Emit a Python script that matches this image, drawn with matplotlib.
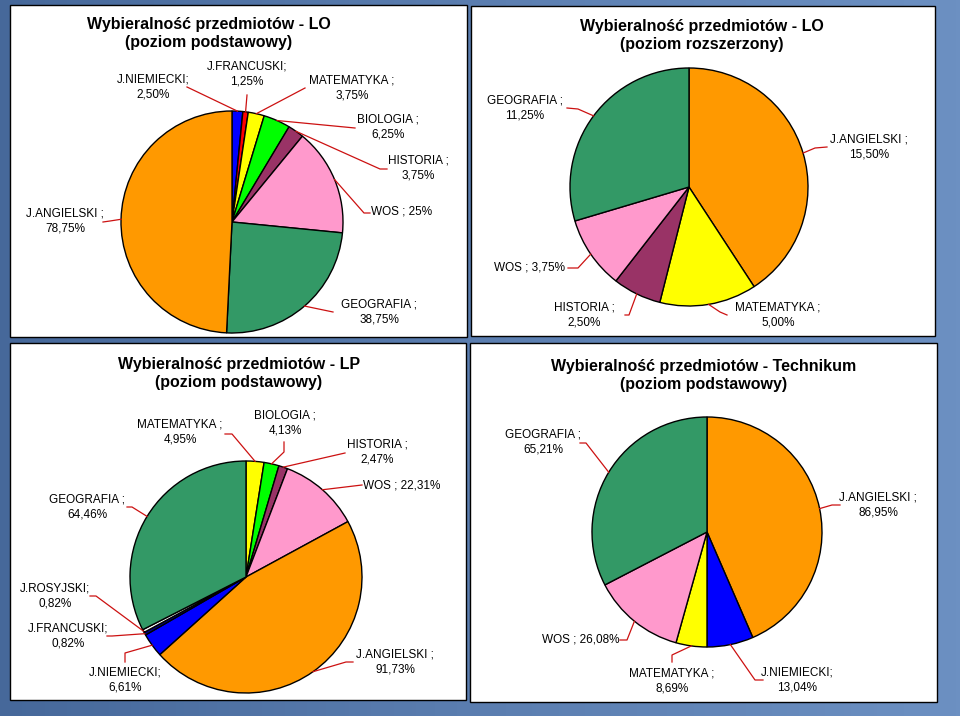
""" Wybieralność przedmiotów - cztery wykresy kołowe na jednym slajdzie """

import numpy as np
import matplotlib.pyplot as plt
from matplotlib.patches import Rectangle
from matplotlib.colors import LinearSegmentedColormap

W, H = 960, 716
CZCIONKA = "Liberation Sans"
KOLOR_LINII = "#cc1111"

# --- dane ---
lo_pp_przedmioty = ["J.NIEMIECKI", "J.FRANCUSKI", "MATEMATYKA", "BIOLOGIA",
                    "HISTORIA", "WOS", "GEOGRAFIA", "J.ANGIELSKI"]
lo_pp_wartosci = [2.50, 1.25, 3.75, 6.25, 3.75, 25.0, 38.75, 78.75]
lo_pp_etykiety = ["J.NIEMIECKI;\n2,50%", "J.FRANCUSKI;\n1,25%", "MATEMATYKA ;\n3,75%",
                  "BIOLOGIA ;\n6,25%", "HISTORIA ;\n3,75%", "WOS ; 25%",
                  "GEOGRAFIA ;\n38,75%", "J.ANGIELSKI ;\n78,75%"]
lo_pp_kolory = ["#0000ff", "#ff0000", "#ffff00", "#00ff00", "#993366", "#ff99cc",
                "#339966", "#ff9900"]

lo_pr_przedmioty = ["J.ANGIELSKI", "MATEMATYKA", "HISTORIA", "WOS", "GEOGRAFIA"]
lo_pr_wartosci = [15.50, 5.00, 2.50, 3.75, 11.25]
lo_pr_etykiety = ["J.ANGIELSKI ;\n15,50%", "MATEMATYKA ;\n5,00%", "HISTORIA ;\n2,50%",
                  "WOS ; 3,75%", "GEOGRAFIA ;\n11,25%"]
lo_pr_kolory = ["#ff9900", "#ffff00", "#993366", "#ff99cc", "#339966"]

lp_przedmioty = ["MATEMATYKA", "BIOLOGIA", "HISTORIA", "WOS", "J.ANGIELSKI",
                 "J.NIEMIECKI", "J.FRANCUSKI", "J.ROSYJSKI", "GEOGRAFIA"]
lp_wartosci = [4.95, 4.13, 2.47, 22.31, 91.73, 6.61, 0.82, 0.82, 64.46]
lp_etykiety = ["MATEMATYKA ;\n4,95%", "BIOLOGIA ;\n4,13%", "HISTORIA ;\n2,47%",
               "WOS ; 22,31%", "J.ANGIELSKI ;\n91,73%", "J.NIEMIECKI;\n6,61%",
               "J.FRANCUSKI;\n0,82%", "J.ROSYJSKI;\n0,82%", "GEOGRAFIA ;\n64,46%"]
lp_kolory = ["#ffff00", "#00ff00", "#993366", "#ff99cc", "#ff9900", "#0000ff",
             "#000080", "#ffffff", "#339966"]

tech_przedmioty = ["J.ANGIELSKI", "J.NIEMIECKI", "MATEMATYKA", "WOS", "GEOGRAFIA"]
tech_wartosci = [86.95, 13.04, 8.69, 26.08, 65.21]
tech_etykiety = ["J.ANGIELSKI ;\n86,95%", "J.NIEMIECKI;\n13,04%", "MATEMATYKA ;\n8,69%",
                 "WOS ; 26,08%", "GEOGRAFIA ;\n65,21%"]
tech_kolory = ["#ff9900", "#0000ff", "#ffff00", "#ff99cc", "#339966"]

tytuly = ["Wybieralność przedmiotów - LO\n(poziom podstawowy)",
          "Wybieralność przedmiotów - LO\n(poziom rozszerzony)",
          "Wybieralność przedmiotów - LP\n(poziom podstawowy)",
          "Wybieralność przedmiotów - Technikum\n(poziom podstawowy)"]

# --- układ (piksele obrazu, y w dół) ---
panele = [
    dict(ramka=(10, 5, 467, 337), tytul=(209, 33), srodek=(232, 222), r=111,
         teksty=[(153, 87), (247, 74), (352, 88), (388, 127), (418, 168),
                 (402, 212), (379, 312), (65, 221)],
         linie=[[(187, 87)], [(247, 95)], [(305, 88)], [(355, 128)],
                [(387, 169), (380, 169)], [(370, 213), (364, 213)],
                [(333, 312)], [(103, 222), (110, 221)]]),
    dict(ramka=(471, 6, 935, 336), tytul=(702, 36), srodek=(689, 187), r=119,
         teksty=[(869, 147), (778, 315), (584, 315), (529, 267), (525, 108)],
         linie=[[(827, 147), (815, 148)], [(727, 315), (720, 312)],
                [(625, 315), (629, 315)], [(568, 268), (578, 268)],
                [(567, 108), (578, 109)]]),
    dict(ramka=(10, 343, 466, 700), tytul=(239, 374), srodek=(246, 577), r=116,
         teksty=[(180, 432), (285, 423), (377, 452), (402, 485), (395, 662),
                 (125, 680), (68, 636), (55, 596), (87, 507)],
         linie=[[(225, 434), (232, 434)], [(284, 442), (284, 452)], [(345, 453)],
                [(362, 485)], [(353, 662), (346, 662)], [(125, 662), (125, 653)],
                [(107, 636), (112, 636)], [(90, 596), (96, 596)],
                [(127, 507), (132, 507)]]),
    dict(ramka=(470, 343, 937, 702), tytul=(704, 375), srodek=(707, 532), r=115,
         teksty=[(878, 505), (797, 680), (672, 681), (581, 639), (543, 442)],
         linie=[[(840, 505), (832, 505)], [(763, 680), (755, 680)],
                [(672, 662), (672, 655)], [(620, 640), (627, 640)],
                [(580, 443), (586, 443)]]),
]

dane = [(lo_pp_wartosci, lo_pp_etykiety, lo_pp_kolory),
        (lo_pr_wartosci, lo_pr_etykiety, lo_pr_kolory),
        (lp_wartosci, lp_etykiety, lp_kolory),
        (tech_wartosci, tech_etykiety, tech_kolory)]


def Y(y):
    """ zamiana y obrazu (w dół) na y osi (w górę) """
    return H - y


fig = plt.figure(figsize=(W / 100, H / 100), dpi=100)
ax = fig.add_axes([0, 0, 1, 1])

# tło slajdu
tlo = LinearSegmentedColormap.from_list("tlo", ["#46689a", "#5b7eb0", "#6c90c2"])
gradient = np.linspace(0, 1, 256).reshape(1, -1)
ax.imshow(gradient, extent=[0, W, 0, H], cmap=tlo, aspect="auto", zorder=0)

for panel, (wartosci, etykiety, kolory), tytul in zip(panele, dane, tytuly):
    x0, y0, x1, y1 = panel["ramka"]
    ax.add_patch(Rectangle((x0, Y(y1)), x1 - x0, y1 - y0, facecolor="white",
                           edgecolor="black", linewidth=1, zorder=1))
    tx, ty = panel["tytul"]
    ax.text(tx, Y(ty), tytul, ha="center", va="center", fontsize=11.5,
            fontweight="bold", family=CZCIONKA, linespacing=1.25, zorder=5)

    cx, cy = panel["srodek"]
    r = panel["r"]
    kliny, _ = ax.pie(wartosci, colors=kolory, startangle=90, counterclock=False,
                      center=(cx, Y(cy)), radius=r, frame=False,
                      wedgeprops=dict(edgecolor="black", linewidth=1))
    for klin in kliny:
        klin.set_zorder(3)

    for klin, etykieta, (lx, ly), punkty in zip(kliny, etykiety, panel["teksty"],
                                                panel["linie"]):
        kat = np.deg2rad((klin.theta1 + klin.theta2) / 2)
        kx = cx + r * np.cos(kat)
        ky = Y(cy) + r * np.sin(kat)
        xs = [p[0] for p in punkty] + [kx]
        ys = [Y(p[1]) for p in punkty] + [ky]
        ax.plot(xs, ys, color=KOLOR_LINII, linewidth=0.9, zorder=4)
        ax.text(lx, Y(ly), etykieta, ha="center", va="center", fontsize=8.5,
                family=CZCIONKA, linespacing=1.4, zorder=5)

ax.set_xlim(0, W)
ax.set_ylim(0, H)
ax.set_aspect("auto")
ax.axis("off")

fig.savefig("out.png", dpi=100)
